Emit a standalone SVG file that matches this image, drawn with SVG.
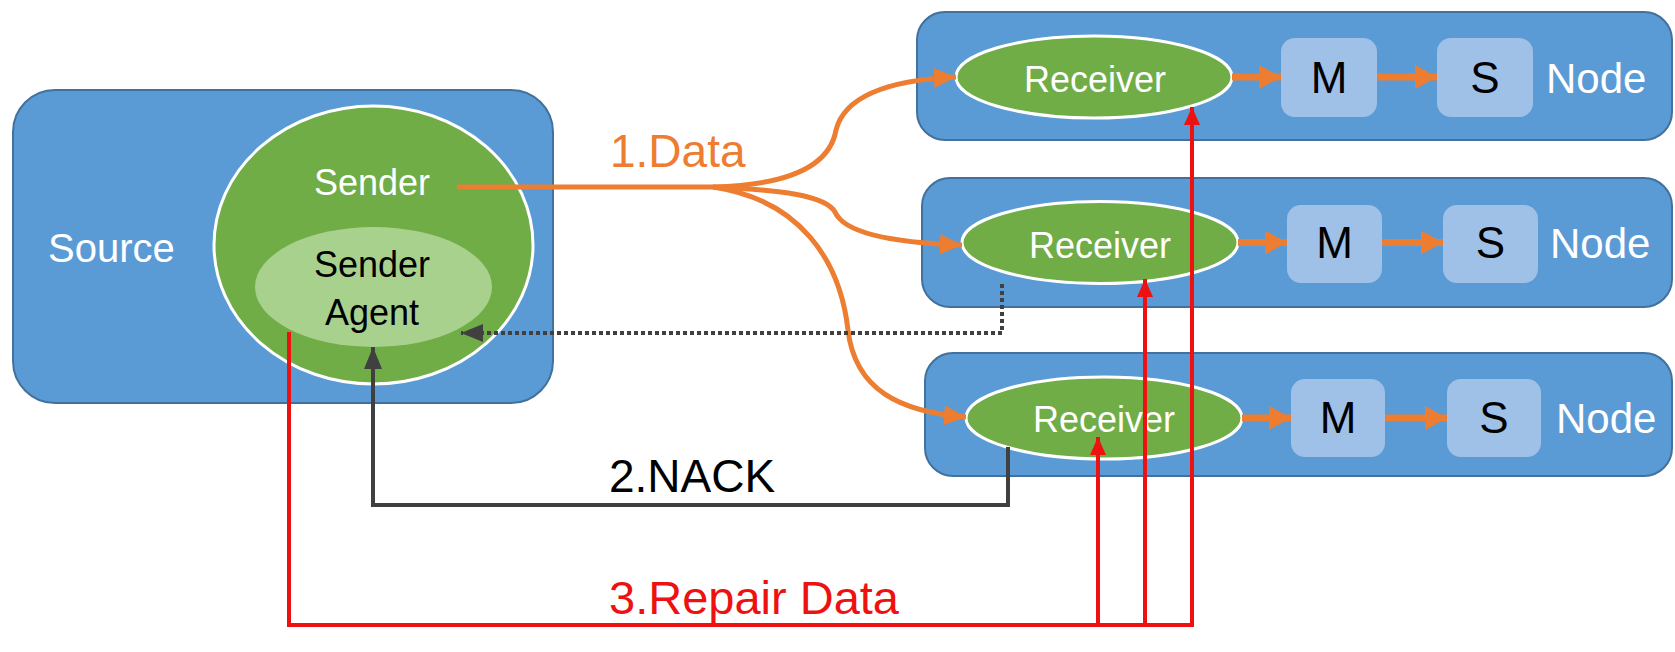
<svg xmlns="http://www.w3.org/2000/svg" width="1675" height="652" viewBox="0 0 1675 652">
<defs>
<style>
.box{fill:#5b9bd5;stroke:#41719c;stroke-width:2}
.rcv{fill:#70ad47;stroke:#ffffff;stroke-width:3}
.ms{fill:#9fc1e8}
.t{font-family:"Liberation Sans",Arial,sans-serif}
.w{fill:#ffffff}
.k{fill:#000000}
.or{fill:none;stroke:#ed7d31;stroke-width:5}
.or2{fill:none;stroke:#ed7d31;stroke-width:7}
.rd{fill:none;stroke:#ee1111;stroke-width:4}
.gy{fill:none;stroke:#404040;stroke-width:4}
.dt{fill:none;stroke:#404040;stroke-width:4;stroke-dasharray:4 3}
</style>
<marker id="ao" markerUnits="userSpaceOnUse" markerWidth="24" markerHeight="20" refX="22" refY="10" orient="auto"><path d="M0,0 L22,10 L0,20 z" fill="#ed7d31"/></marker>
<marker id="ao2" markerUnits="userSpaceOnUse" markerWidth="24" markerHeight="24" refX="22" refY="12" orient="auto"><path d="M0,0 L22,12 L0,24 z" fill="#ed7d31"/></marker>
<marker id="ar" markerUnits="userSpaceOnUse" markerWidth="18" markerHeight="16" refX="18" refY="8" orient="auto"><path d="M0,0 L18,8 L0,16 z" fill="#ee1111"/></marker>
<marker id="ag" markerUnits="userSpaceOnUse" markerWidth="22" markerHeight="18" refX="22" refY="9" orient="auto"><path d="M0,0 L22,9 L0,18 z" fill="#404040"/></marker>
</defs>
<rect x="0" y="0" width="1675" height="652" fill="#ffffff"/>

<g id="source">
<rect class="box" x="13" y="90" width="540" height="313" rx="42"/>
<text class="t w" x="48" y="262" font-size="40">Source</text>
</g>
<g id="sender">
<ellipse cx="373.5" cy="245" rx="159.5" ry="139" fill="#70ad47" stroke="#ffffff" stroke-width="3"/>
<text class="t w" x="372" y="195" font-size="36" text-anchor="middle">Sender</text>
</g>
<g id="sender-agent">
<ellipse cx="373.5" cy="287" rx="118.5" ry="60" fill="#a9d18e"/>
<text class="t k" x="372" y="277" font-size="36" text-anchor="middle">Sender</text>
<text class="t k" x="372" y="325" font-size="36" text-anchor="middle">Agent</text>
</g>

<g id="node1">
<rect class="box" x="917" y="12" width="755" height="128" rx="28"/>
<ellipse class="rcv" cx="1094" cy="77" rx="138" ry="41"/>
<text class="t w" x="1095" y="92" font-size="36" text-anchor="middle">Receiver</text>
<rect class="ms" x="1281" y="38" width="96" height="79" rx="14"/>
<text class="t k" x="1329" y="93" font-size="44" text-anchor="middle">M</text>
<rect class="ms" x="1437" y="38" width="96" height="79" rx="14"/>
<text class="t k" x="1485" y="93" font-size="44" text-anchor="middle">S</text>
<text class="t w" x="1546" y="93" font-size="42">Node</text>
</g>
<g id="node2">
<rect class="box" x="922" y="178" width="750" height="129" rx="28"/>
<ellipse class="rcv" cx="1100" cy="242.5" rx="138" ry="41"/>
<text class="t w" x="1100" y="258" font-size="36" text-anchor="middle">Receiver</text>
<rect class="ms" x="1287" y="205" width="95" height="78" rx="14"/>
<text class="t k" x="1334.5" y="258" font-size="44" text-anchor="middle">M</text>
<rect class="ms" x="1443" y="205" width="95" height="78" rx="14"/>
<text class="t k" x="1490.5" y="258" font-size="44" text-anchor="middle">S</text>
<text class="t w" x="1550" y="258" font-size="42">Node</text>
</g>
<g id="node3">
<rect class="box" x="925" y="353" width="747" height="123" rx="28"/>
<ellipse class="rcv" cx="1104" cy="418" rx="138" ry="41"/>
<text class="t w" x="1104" y="432" font-size="36" text-anchor="middle">Receiver</text>
<rect class="ms" x="1291" y="379" width="94" height="78" rx="14"/>
<text class="t k" x="1338" y="433" font-size="44" text-anchor="middle">M</text>
<rect class="ms" x="1447" y="379" width="94" height="78" rx="14"/>
<text class="t k" x="1494" y="433" font-size="44" text-anchor="middle">S</text>
<text class="t w" x="1556" y="433" font-size="42">Node</text>
</g>

<g id="connectors">
<path class="or" d="M457,187 H713"/>
<path class="or" d="M713,187 C790,185 830,165 836,130 C845,95 890,80 956,77" marker-end="url(#ao)"/>
<path class="or" d="M713,187 C780,190 825,195 835,212 C845,235 900,243 962,245" marker-end="url(#ao)"/>
<path class="or" d="M713,187 C800,200 840,260 848,330 C855,390 900,412 966,417" marker-end="url(#ao)"/>
<path class="or2" d="M1232,77 H1281" marker-end="url(#ao2)"/>
<path class="or2" d="M1377,77 H1437" marker-end="url(#ao2)"/>
<path class="or2" d="M1238,242.5 H1287" marker-end="url(#ao2)"/>
<path class="or2" d="M1382,242.5 H1443" marker-end="url(#ao2)"/>
<path class="or2" d="M1242,418 H1291" marker-end="url(#ao2)"/>
<path class="or2" d="M1385,418 H1447" marker-end="url(#ao2)"/>
<path class="dt" d="M1002,284 V333 H461" marker-end="url(#ag)"/>
<path class="gy" d="M1008,447 V505 H373 V347" marker-end="url(#ag)"/>
<path class="rd" d="M289,332 V625 H1192 V107" marker-end="url(#ar)"/>
<path class="rd" d="M1098,625 V437" marker-end="url(#ar)"/>
<path class="rd" d="M1145,625 V279" marker-end="url(#ar)"/>
<text class="t" x="610" y="167" font-size="46" fill="#ed7d31">1.Data</text>
<text class="t k" x="609" y="492" font-size="46">2.NACK</text>
<text class="t" x="609" y="614" font-size="47" fill="#ee1111">3.Repair Data</text>
</g>
</svg>
